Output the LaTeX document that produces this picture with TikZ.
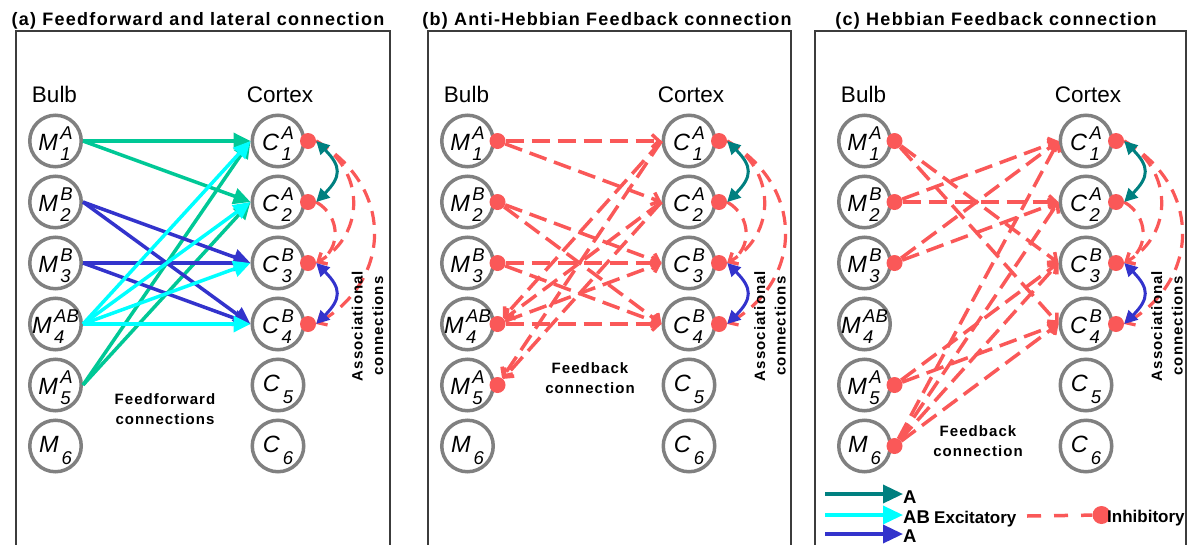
\documentclass[tikz,border=0pt]{standalone}
\usepackage{fontspec}
\setmainfont{Liberation Sans}
\newfontfamily\spacedfont[LetterSpace=7]{Liberation Sans}
\usetikzlibrary{arrows.meta,positioning}

\definecolor{cellgray}{RGB}{128,128,128}
\definecolor{ffgreen}{RGB}{0,200,150}
\definecolor{ffcyan}{RGB}{0,255,255}
\definecolor{ffblue}{RGB}{51,51,204}
\definecolor{assocteal}{RGB}{0,128,128}
\definecolor{inhred}{RGB}{250,88,88}
\definecolor{framegray}{RGB}{60,60,60}

% cell label with stacked super- and subscript
\newcommand{\supsub}[3]{\raisebox{-9pt}[0pt][0pt]{\textit{#1}\kern2.5pt{\fontsize{18.5}{21}\selectfont\itshape\begin{tabular}{@{}l@{}}#3\\#2\end{tabular}}}}
\newcommand{\subonly}[2]{\raisebox{-6pt}[0pt][0pt]{\textit{#1}\kern3pt\raisebox{-12pt}{\fontsize{18.5}{21}\selectfont\itshape #2}}}

\tikzset{
	cell/.style={circle, draw=cellgray, line width=3.5pt, minimum size=51.5pt, inner sep=0pt, fill=white, font=\fontsize{23.5}{27}\selectfont},
	colhead/.style={anchor=base, font=\fontsize{22.5}{27}\selectfont},
	paneltitle/.style={anchor=base, font=\spacedfont\bfseries\fontsize{18}{22}\selectfont},
	note/.style={align=center, font=\spacedfont\bfseries\fontsize{15}{20.5}\selectfont},
	legtext/.style={anchor=base west, inner sep=0pt, font=\bfseries\fontsize{18.5}{22}\selectfont},
	legword/.style={anchor=base west, inner sep=0pt, font=\bfseries\fontsize{17}{20}\selectfont},
	frame/.style={draw=framegray, line width=1.4pt},
	excite/.style={line width=3.5pt, -{Triangle[length=17pt,width=16pt]}},
	inhib/.style={draw=inhred, line width=3.5pt, dash pattern=on 18pt off 8pt},
	inhibto/.style={inhib, -{Straight Barb[length=7pt,width=13pt]}},
	syn/.style={circle, fill=inhred, minimum size=16pt, inner sep=0pt},
	assoc/.style={line width=3pt, {Triangle[length=13pt,width=13pt]}-{Triangle[length=13pt,width=13pt]}},
	associnh/.style={draw=inhred, line width=3.2pt, dash pattern=on 14pt off 9pt, -{Straight Barb[length=7pt,width=13pt]}}
}

\begin{document}
\begin{tikzpicture}[x=1pt,y=-1pt]
	\useasboundingbox (0,0) rectangle (1188,544);
	\clip (0,0) rectangle (1188,544);
	% frames and titles
	\draw[frame] (16,31) rectangle (390,580);
	\draw[frame] (428,31) rectangle (791,580);
	\draw[frame] (815,31) rectangle (1186,580);
	\node[paneltitle] (titlea) at (198,25) {(a) Feedforward and lateral connection};
	\node[paneltitle] (titleb) at (607,25) {(b) Anti-Hebbian Feedback connection};
	\node[paneltitle] (titlec) at (996,25) {(c) Hebbian Feedback connection};

	% cells, columns and associational links of every panel
	\foreach \p/\mx/\cx/\ax in {a/55.5/278/367.5, b/467.5/689/770, c/864.5/1086/1167}{
		\node[colhead] (bulb\p) at ({\mx-1},102) {Bulb};
		\node[colhead] (cortex\p) at ({\cx+2},102) {Cortex};
		\foreach \i/\s in {1/A,2/B,3/B,4/AB,5/A}
			\node[cell] (M\p\i) at (\mx,{141+61*(\i-1)}) {\supsub{M}{\i}{\s}};
		\node[cell] (M\p6) at (\mx,446) {\subonly{M}{6}};
		\foreach \i/\s in {1/A,2/A,3/B,4/B}
			\node[cell] (C\p\i) at (\cx,{141+61*(\i-1)}) {\supsub{C}{\i}{\s}};
		\node[cell] (C\p5) at (\cx,385) {\subonly{C}{5}};
		\node[cell] (C\p6) at (\cx,446) {\subonly{C}{6}};
		\foreach \i in {1,...,4}
			\node[syn] (D\p\i) at ([xshift=30pt]C\p\i.center) {};
		\draw[associnh] (D\p2.east) to[out=-30,in=30,looseness=1.2] (D\p3.east);
		\draw[associnh] (D\p1.east) to[out=-30,in=30,looseness=1.2] (D\p3.east);
		\draw[associnh] (D\p1.east) to[out=-30,in=30,looseness=1.25] (D\p4.east);
		\draw[assoc, assocteal] (D\p1.east) to[out=-45,in=45,looseness=1.5] (D\p2.east);
		\draw[assoc, ffblue] (D\p3.east) to[out=-45,in=45,looseness=1.5] (D\p4.east);
		\node[note, rotate=90] (assoc\p) at (\ax,326) {Associational\\connections};
	}

	% (a) feedforward
	\foreach \m/\c in {1/1,1/2,5/1,5/2}
		\draw[excite, ffgreen] (Ma\m.east) -- (Ca\c.west);
	\foreach \m/\c in {2/3,2/4,3/3,3/4}
		\draw[excite, ffblue] (Ma\m.east) -- (Ca\c.west);
	\foreach \c in {1,...,4}
		\draw[excite, ffcyan] (Ma4.east) -- (Ca\c.west);
	\node[note] (ffnote) at (165,409) {Feedforward\\connections};

	% (b) anti-Hebbian feedback
	\foreach \i in {1,...,5}
		\node[syn] (Sb\i) at ([xshift=30pt]Mb\i.center) {};
	\foreach \m/\c in {1/1,1/2,2/3,2/4,3/3,3/4,4/3,4/4}
		\draw[inhibto] (Sb\m) -- (Cb\c.west);
	\foreach \c/\m in {1/4,2/4,1/5,2/5}
		\draw[inhibto] (Cb\c.west) -- (Sb\m);
	\node[note] (fbnoteb) at (590,378) {Feedback\\connection};

	% (c) Hebbian feedback
	\foreach \i in {1,2,3,5,6}
		\node[syn] (Sc\i) at ([xshift=30pt]Mc\i.center) {};
	\foreach \m/\c in {1/3,1/4,2/1,2/2,3/1,3/2,5/3,5/4,6/1,6/2,6/3,6/4}
		\draw[inhibto] (Sc\m) -- (Cc\c.west);
	\node[note] (fbnotec) at (978,441) {Feedback\\connection};

	% legend
	\node[legtext] (lgA) at (903,503) {A};
	\node[legtext] (lgAB) at (903,523) {AB};
	\node[legtext] (lgB) at (903,542) {A};
	\coordinate (lgAs) at (825,494);
	\coordinate (lgABs) at (825,515);
	\coordinate (lgBs) at (825,534);
	\draw[assocteal, line width=3.5pt, -{Triangle[length=20pt,width=18pt]}] (lgAs) -- (lgAs -| lgA.west);
	\draw[ffcyan, line width=3.5pt, -{Triangle[length=20pt,width=18pt]}] (lgABs) -- (lgABs -| lgAB.west);
	\draw[ffblue, line width=3.5pt, -{Triangle[length=20pt,width=18pt]}] (lgBs) -- (lgBs -| lgB.west);
	\node[legword] (lgExc) at (934,523) {Excitatory};
	\coordinate (lgInh) at (1027,516);
	\node[syn, minimum size=18pt] (lgDot) at (1101.5,515) {};
	\draw[inhib, dash pattern=on 14pt off 13pt] (lgInh) -- (lgDot);
	\node[legword] (lgInhText) at (1107,522.7) {Inhibitory};
\end{tikzpicture}
\end{document}
